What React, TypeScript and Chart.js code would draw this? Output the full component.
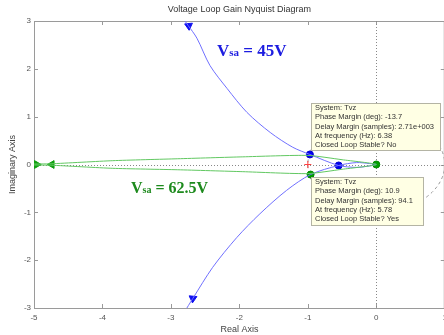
import React, { useEffect, useRef } from 'react';
import { Chart, registerables } from 'chart.js';

Chart.register(...registerables);

const TITLE = 'Voltage Loop Gain Nyquist Diagram';
const X_LABEL = 'Real Axis';
const Y_LABEL = 'Imaginary Axis';
const X_MIN = -5;
const X_MAX = 1;
const Y_MIN = -3;
const Y_MAX = 3;

// Vsa = 45V curve (blue)
const BLUE_RE = [-2.81, -2.68, -2.39, -2.04, -1.70, -1.31, -0.96, -0.55, -0.29, -0.10, 0, -0.10, -0.29, -0.55, -0.97, -1.22, -1.55, -1.89, -2.18, -2.43, -2.62, -2.75, -2.82];
const BLUE_IM = [-3.10, -2.80, -2.15, -1.53, -1.03, -0.54, -0.21, -0.02, 0.04, 0.02, 0, -0.03, -0.06, -0.02, 0.21, 0.36, 0.67, 1.09, 1.59, 2.07, 2.64, 2.91, 3.05];

// Vsa = 62.5V curve (green)
const GREEN_RE = [-5.05, -4.75, -3.85, -2.9, -1.95, -1.0, -0.5, 0, -0.5, -1.0, -1.95, -2.9, -3.85, -4.75, -5.05];
const GREEN_IM = [0.01, 0.015, 0.08, 0.12, 0.16, 0.19, 0.1, 0, -0.1, -0.19, -0.15, -0.11, -0.08, -0.015, -0.01];

// margin markers
const BLUE_DOT_RE = [-0.97, -0.55];
const BLUE_DOT_IM = [0.21, -0.02];
const GREEN_DOT_RE = [-0.96, 0];
const GREEN_DOT_IM = [-0.21, 0];

// direction arrows
const BLUE_ARROW_RE = [-2.74, -2.68];
const BLUE_ARROW_IM = [2.9, -2.8];
const BLUE_ARROW_ROT = [-65, 65];
const GREEN_ARROW_RE = [-4.96, -4.74];
const GREEN_ARROW_IM = [0, 0];
const GREEN_ARROW_ROT = [90, -90];

// critical point
const CRIT_RE = [-1];
const CRIT_IM = [0];

const BOX_UPPER = [
  'System: Tvz',
  'Phase Margin (deg): -13.7',
  'Delay Margin (samples): 2.71e+003',
  'At frequency (Hz): 6.38',
  'Closed Loop Stable? No',
];
const BOX_LOWER = [
  'System: Tvz',
  'Phase Margin (deg): 10.9',
  'Delay Margin (samples): 94.1',
  'At frequency (Hz): 5.78',
  'Closed Loop Stable? Yes',
];

const pts = (xs: number[], ys: number[]) => xs.map((x, i) => ({ x, y: ys[i] }));

const SANS = '"Liberation Sans", Arial, sans-serif';
const SERIF = '"Liberation Serif", "Times New Roman", serif';

const decorPlugin = {
  id: 'decor',
  beforeDatasetsDraw(chart: any) {
    const { ctx, chartArea: a, scales } = chart;
    const xs = scales.x;
    const ys = scales.y;
    ctx.save();
    ctx.strokeStyle = '#9a9a9a';
    ctx.lineWidth = 1;
    ctx.beginPath();
    ctx.moveTo(a.left, a.top + 0.5);
    ctx.lineTo(a.right, a.top + 0.5);
    ctx.moveTo(a.right - 0.5, a.top);
    ctx.lineTo(a.right - 0.5, a.bottom);
    ctx.stroke();
    ctx.beginPath();
    for (let v = X_MIN; v <= X_MAX; v++) {
      const px = Math.round(xs.getPixelForValue(v)) + 0.5;
      ctx.moveTo(px, a.bottom);
      ctx.lineTo(px, a.bottom - 4);
      ctx.moveTo(px, a.top);
      ctx.lineTo(px, a.top + 4);
    }
    for (let v = Y_MIN; v <= Y_MAX; v++) {
      const py = Math.round(ys.getPixelForValue(v)) + 0.5;
      ctx.moveTo(a.left, py);
      ctx.lineTo(a.left + 4, py);
      ctx.moveTo(a.right, py);
      ctx.lineTo(a.right - 4, py);
    }
    ctx.stroke();
    ctx.beginPath();
    ctx.rect(a.left, a.top, a.right - a.left, a.bottom - a.top);
    ctx.clip();
    ctx.strokeStyle = '#888';
    ctx.setLineDash([1, 2]);
    const x0 = Math.round(xs.getPixelForValue(0)) + 0.5;
    const y0 = Math.round(ys.getPixelForValue(0)) + 0.5;
    ctx.beginPath();
    ctx.moveTo(x0, a.top);
    ctx.lineTo(x0, a.bottom);
    ctx.moveTo(a.left, y0);
    ctx.lineTo(a.right, y0);
    ctx.stroke();
    const rx = xs.getPixelForValue(1) - xs.getPixelForValue(0);
    const ry = ys.getPixelForValue(0) - ys.getPixelForValue(1);
    ctx.setLineDash([3, 3]);
    ctx.strokeStyle = '#999';
    ctx.beginPath();
    ctx.ellipse(xs.getPixelForValue(0), ys.getPixelForValue(0), rx, ry, 0, 0, Math.PI * 2);
    ctx.stroke();
    ctx.restore();
  },
  afterDatasetsDraw(chart: any) {
    const { ctx, chartArea: a } = chart;
    ctx.save();
    ctx.fillStyle = '#333';
    ctx.font = `9px ${SANS}`;
    ctx.textAlign = 'center';
    ctx.textBaseline = 'middle';
    ctx.fillText(TITLE, (a.left + a.right) / 2, 10);

    const drawVsa = (x: number, y: number, value: string, color: string, size: number) => {
      ctx.fillStyle = color;
      ctx.textAlign = 'left';
      ctx.textBaseline = 'alphabetic';
      ctx.font = `bold ${size}px ${SERIF}`;
      ctx.fillText('V', x, y);
      let cx = x + ctx.measureText('V').width;
      ctx.font = `bold ${Math.round(size * 0.62)}px ${SERIF}`;
      ctx.fillText('sa', cx, y);
      cx += ctx.measureText('sa').width;
      ctx.font = `bold ${size}px ${SERIF}`;
      ctx.fillText(' = ' + value, cx, y);
    };
    drawVsa(217, 56, '45V', '#1c1ce0', 17);
    drawVsa(131, 193, '62.5V', '#1d8a1d', 16);

    const drawBox = (x: number, y: number, w: number, h: number, lines: string[]) => {
      ctx.fillStyle = '#ffffe4';
      ctx.fillRect(x, y, w, h);
      ctx.strokeStyle = '#b4b4a4';
      ctx.lineWidth = 1;
      ctx.strokeRect(x + 0.5, y + 0.5, w, h);
      ctx.fillStyle = '#333';
      ctx.font = `7.5px ${SANS}`;
      ctx.textAlign = 'left';
      ctx.textBaseline = 'middle';
      lines.forEach((t, i) => ctx.fillText(t, x + 4, y + 5 + i * 9.3));
    };
    drawBox(311, 103, 129, 47, BOX_UPPER);
    drawBox(311, 177, 112, 48, BOX_LOWER);
    ctx.restore();
  },
};

export default function App() {
  const ref = useRef<HTMLCanvasElement | null>(null);
  useEffect(() => {
    if (!ref.current) return;
    const chart = new Chart(ref.current, {
      type: 'scatter',
      data: {
        datasets: [
          {
            label: 'Vsa = 62.5V',
            data: pts(GREEN_RE, GREEN_IM),
            showLine: true,
            borderColor: '#62c862',
            borderWidth: 1,
            pointRadius: 0,
            tension: 0.2,
          },
          {
            label: 'Vsa = 45V',
            data: pts(BLUE_RE, BLUE_IM),
            showLine: true,
            borderColor: '#7070ff',
            borderWidth: 1,
            pointRadius: 0,
            tension: 0.3,
          },
          {
            label: 'crit',
            data: pts(CRIT_RE, CRIT_IM),
            pointStyle: 'cross',
            pointRadius: 3.5,
            borderColor: '#ff4040',
            pointBorderColor: '#ff4040',
            borderWidth: 1,
          },
          {
            label: 'green arrows',
            data: pts(GREEN_ARROW_RE, GREEN_ARROW_IM),
            pointStyle: 'triangle',
            pointRadius: 4.5,
            pointRotation: GREEN_ARROW_ROT,
            pointBackgroundColor: '#10a010',
            pointBorderColor: '#10a010',
            backgroundColor: '#10a010',
            borderColor: '#10a010',
            borderWidth: 1,
          },
          {
            label: 'blue arrows',
            data: pts(BLUE_ARROW_RE, BLUE_ARROW_IM),
            pointStyle: 'triangle',
            pointRadius: 4.5,
            pointRotation: BLUE_ARROW_ROT,
            pointBackgroundColor: '#1010f0',
            pointBorderColor: '#1010f0',
            backgroundColor: '#1010f0',
            borderColor: '#1010f0',
            borderWidth: 1,
          },
          {
            label: 'green dots',
            data: pts(GREEN_DOT_RE, GREEN_DOT_IM),
            pointRadius: 3.5,
            backgroundColor: '#00a000',
            borderColor: '#008800',
            borderWidth: 1,
          },
          {
            label: 'blue dots',
            data: pts(BLUE_DOT_RE, BLUE_DOT_IM),
            pointRadius: 3.5,
            backgroundColor: '#0000f0',
            borderColor: '#0000cc',
            borderWidth: 1,
          },
        ],
      },
      options: {
        animation: false,
        responsive: true,
        maintainAspectRatio: false,
        devicePixelRatio: 1,
        layout: { padding: { top: 21, right: 7, left: 0, bottom: 0 } },
        plugins: {
          legend: { display: false },
          tooltip: { enabled: false },
          title: { display: false },
        },
        events: [],
        scales: {
          x: {
            type: 'linear',
            min: X_MIN,
            max: X_MAX,
            afterFit: (s: any) => { s.height = 27; },
            ticks: { stepSize: 1, color: '#555', font: { size: 8, family: SANS }, padding: 5 },
            grid: { display: false, drawTicks: false },
            border: { display: true, color: '#9a9a9a' },
            title: { display: true, text: X_LABEL, color: '#444', font: { size: 9, family: SANS }, padding: { top: 0, bottom: 0 } },
          },
          y: {
            type: 'linear',
            min: Y_MIN,
            max: Y_MAX,
            afterFit: (s: any) => { s.width = 34; },
            ticks: { stepSize: 1, color: '#555', font: { size: 8, family: SANS }, padding: 3 },
            grid: { display: false, drawTicks: false },
            border: { display: true, color: '#9a9a9a' },
            title: { display: true, text: Y_LABEL, color: '#444', font: { size: 9, family: SANS }, padding: { top: 7, bottom: 0 } },
          },
        },
      },
      plugins: [decorPlugin],
    } as any);
    return () => chart.destroy();
  }, []);

  return (
    <div style={{ position: 'fixed', left: 0, top: 0, width: 444, height: 335, overflow: 'hidden', background: '#fff' }}>
      <div style={{ position: 'relative', width: 452, height: 335 }}>
        <canvas ref={ref} />
      </div>
    </div>
  );
}
